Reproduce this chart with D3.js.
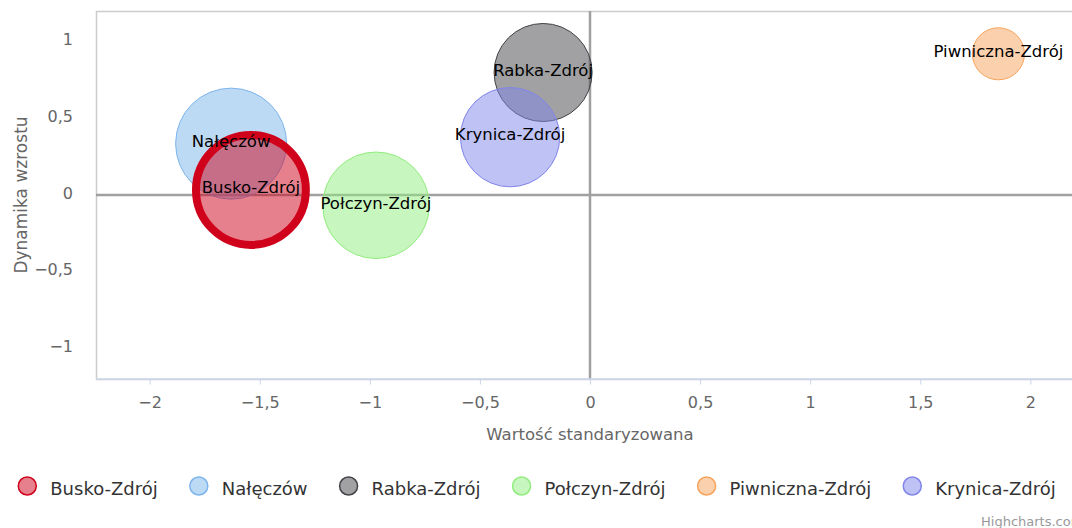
<!DOCTYPE html>
<html>
<head>
<meta charset="utf-8">
<script src="https://cdn.jsdelivr.net/npm/d3@7"></script>
<style>
  body { margin: 0; background: #fff; }
  svg { display: block; font-family: "DejaVu Sans", sans-serif; }
</style>
</head>
<body>
<div id="chart"></div>
<script>
// uzdrowiska - wartosc standaryzowana vs dynamika wzrostu
var seriesNames = ["Busko-Zdrój", "Nałęczów", "Rabka-Zdrój", "Połczyn-Zdrój", "Piwniczna-Zdrój", "Krynica-Zdrój"];
var xValues = [-1.540, -1.630, -0.213, -0.972, 1.855, -0.363];
var yValues = [0.033, 0.335, 0.799, -0.067, 0.921, 0.377];
var zValues = [98, 100, 78, 92, 22, 80];
var seriesColors = ["#d0021b", "#7cb5ec", "#434348", "#90ed7d", "#f7a35c", "#8085e9"];
var xTicks = [-2, -1.5, -1, -0.5, 0, 0.5, 1, 1.5, 2];
var yTicks = [-1, -0.5, 0, 0.5, 1];
var highlighted = "Busko-Zdrój"; // selected series, drawn on top with thick border

var width = 1072, height = 528;
var plot = {left: 96, top: 11, right: 1084, bottom: 379};

var pl = d3.formatLocale({decimal: ",", thousands: " ", grouping: [3], currency: ["", " zł"], minus: "\u2212"});
var fmt = pl.format("~g");

var svg = d3.select("#chart").append("svg")
	.attr("width", width)
	.attr("height", height);

var x = d3.scaleLinear().domain([-2.2436, 2.2436]).range([plot.left, plot.right]);
var y = d3.scaleLinear().domain([-1.2, 1.2]).range([plot.bottom, plot.top]);
var r = d3.scaleSqrt().domain([0, d3.max(zValues)]).range([0, 55.5]);

var data = seriesNames.map(function(name, i){
	return {name: name, x: xValues[i], y: yValues[i], z: zValues[i], color: seriesColors[i]};
});

// plot border
svg.append("rect")
	.attr("x", plot.left + 0.5)
	.attr("y", plot.top + 0.5)
	.attr("width", plot.right - plot.left)
	.attr("height", plot.bottom - plot.top)
	.attr("fill", "none")
	.attr("stroke", "#cccccc")
	.attr("stroke-width", 1.5);

svg.append("clipPath").attr("id", "plotClip")
	.append("rect")
	.attr("x", plot.left).attr("y", plot.top)
	.attr("width", plot.right - plot.left).attr("height", plot.bottom - plot.top);

// zero lines
svg.append("line")
	.attr("x1", plot.left).attr("x2", plot.right)
	.attr("y1", y(0)).attr("y2", y(0))
	.attr("stroke", "#a0a0a0").attr("stroke-width", 2.5);
svg.append("line")
	.attr("x1", x(0)).attr("x2", x(0))
	.attr("y1", plot.top).attr("y2", plot.bottom)
	.attr("stroke", "#a0a0a0").attr("stroke-width", 2.5);

// x axis
var xAxis = d3.axisBottom(x).tickValues(xTicks).tickFormat(fmt).tickSize(6).tickSizeOuter(0).tickPadding(12);
var gx = svg.append("g")
	.attr("transform", "translate(0," + (plot.bottom - 0.5) + ")")
	.call(xAxis);
gx.select(".domain").attr("stroke", "#ccd6eb").attr("stroke-width", 1.5);
gx.selectAll(".tick line").attr("stroke", "#ccd6eb");
gx.selectAll(".tick text")
	.attr("fill", "#666")
	.attr("font-size", "16px")
	.attr("font-family", "DejaVu Sans, sans-serif");

// y axis (labels only)
var yAxis = d3.axisLeft(y).tickValues(yTicks).tickFormat(fmt).tickSize(0).tickPadding(23);
var gy = svg.append("g")
	.attr("transform", "translate(" + plot.left + ",0)")
	.call(yAxis);
gy.select(".domain").remove();
gy.selectAll(".tick text")
	.attr("fill", "#666")
	.attr("font-size", "16px")
	.attr("font-family", "DejaVu Sans, sans-serif")
	.attr("dy", "0.2em");

// axis titles
svg.append("text")
	.attr("x", (plot.left + plot.right) / 2)
	.attr("y", 440)
	.attr("text-anchor", "middle")
	.attr("fill", "#666")
	.attr("font-size", "16.5px")
	.text("Wartość standaryzowana");

svg.append("text")
	.attr("transform", "translate(27," + ((plot.top + plot.bottom) / 2) + ") rotate(-90)")
	.attr("text-anchor", "middle")
	.attr("fill", "#666")
	.attr("font-size", "17px")
	.text("Dynamika wzrostu");

// bubbles, highlighted series last
var drawOrder = data.filter(function(d){ return d.name != highlighted; })
	.concat(data.filter(function(d){ return d.name == highlighted; }));

var bubbles = svg.append("g").attr("clip-path", "url(#plotClip)");
bubbles.selectAll("circle")
	.data(drawOrder)
	.enter().append("circle")
	.attr("cx", function(d){ return x(d.x); })
	.attr("cy", function(d){ return y(d.y); })
	.attr("r", function(d){ return r(d.z); })
	.attr("fill", function(d){ return d.color; })
	.attr("fill-opacity", 0.5)
	.attr("stroke", function(d){ return d.color; })
	.attr("stroke-width", function(d){ return d.name == highlighted ? 8 : 1; });

// data labels above all bubbles
svg.append("g").selectAll("text")
	.data(data)
	.enter().append("text")
	.attr("x", function(d){ return x(d.x); })
	.attr("y", function(d){ return y(d.y); })
	.attr("dy", "0.2em")
	.attr("text-anchor", "middle")
	.attr("fill", "#000")
	.attr("font-size", "16.5px")
	.text(function(d){ return d.name; });

// legend
var legendY = 486, gap = 41, textOff = 23;
var legend = svg.append("g");
var items = legend.selectAll("g")
	.data(data)
	.enter().append("g");
items.append("circle")
	.attr("r", 9)
	.attr("cy", legendY)
	.attr("fill", function(d){ return d.color; })
	.attr("fill-opacity", 0.5)
	.attr("stroke", function(d){ return d.color; })
	.attr("stroke-width", 1.5);
items.append("text")
	.attr("x", textOff)
	.attr("y", 495)
	.attr("fill", "#333")
	.attr("font-size", "18px")
	.text(function(d){ return d.name; });

var pos = 0;
items.each(function(d){
	d.lx = pos;
	var w = this.querySelector("text").getComputedTextLength();
	pos += textOff + w + gap;
});
var total = pos - gap + 9;
var startX = 537 - total / 2 + 9;
items.attr("transform", function(d){ return "translate(" + (startX + d.lx) + ",0)"; });

// credits
svg.append("text")
	.attr("x", 981)
	.attr("y", 526)
	.attr("fill", "#999")
	.attr("font-size", "13px")
	.text("Highcharts.com");
</script>
</body>
</html>
